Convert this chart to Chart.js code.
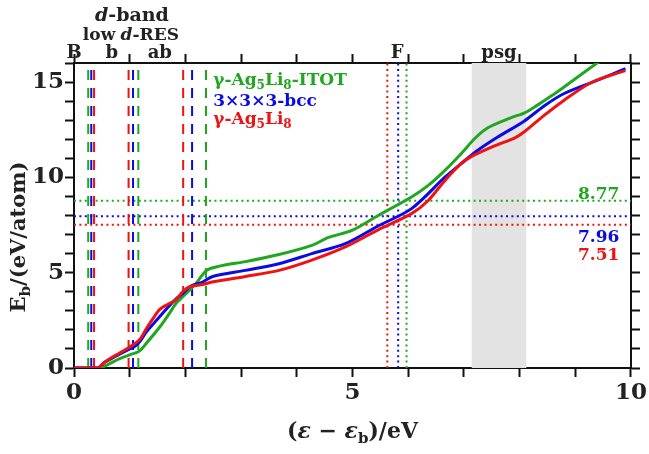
<!DOCTYPE html>
<html>
<head>
<meta charset="utf-8">
<script src="https://cdn.jsdelivr.net/npm/chart.js@4.4.1/dist/chart.umd.min.js"></script>
<style>
  html, body { margin: 0; padding: 0; background: #fff; }
  #wrap { width: 649px; height: 454px; position: relative; }
</style>
</head>
<body>
<div id="wrap"><canvas id="myChart"></canvas></div>
<script>
// curves: [energy (eV), Eb (eV/atom)]
const greenCurve = [[0,0],[0.45,0],[0.58,0.14],[0.82,0.49],[1.06,0.75],[1.18,0.9],[1.3,1.3],[1.54,2.15],[1.71,2.85],[1.83,3.38],[2.01,3.9],[2.19,4.43],[2.37,5.1],[2.55,5.3],[2.73,5.42],[3.08,5.58],[3.68,5.95],[4.27,6.43],[4.57,6.85],[4.99,7.22],[5.46,8.0],[6.06,8.97],[6.36,9.58],[6.66,10.37],[6.95,11.24],[7.2,12.05],[7.43,12.6],[7.84,13.12],[8.1,13.4],[8.3,13.75],[8.56,14.25],[8.92,15.0],[9.39,16.0],[9.5,16.2]];
const blueCurve = [[0,0],[0.42,0],[0.55,0.3],[0.75,0.62],[1.0,1.0],[1.1,1.15],[1.2,1.45],[1.3,1.9],[1.48,2.5],[1.66,3.1],[1.83,3.62],[1.95,3.9],[2.1,4.3],[2.31,4.51],[2.49,4.8],[3.08,5.12],[3.68,5.47],[4.27,6.0],[4.87,6.52],[5.46,7.45],[6.06,8.36],[6.66,10.01],[6.95,10.72],[7.25,11.42],[7.6,12.1],[8.08,12.95],[8.44,13.75],[8.8,14.4],[9.39,15.09],[9.9,15.7]];
const redCurve = [[0,0],[0.43,0],[0.55,0.3],[0.65,0.5],[0.8,0.75],[1.0,1.1],[1.18,1.5],[1.3,2.07],[1.42,2.6],[1.54,3.08],[1.71,3.38],[1.83,3.58],[1.95,4.0],[2.07,4.25],[2.31,4.38],[2.5,4.52],[3.08,4.8],[3.68,5.12],[4.27,5.66],[4.87,6.35],[5.46,7.25],[6.06,8.1],[6.36,8.79],[6.66,9.84],[6.95,10.72],[7.14,11.1],[7.55,11.65],[7.9,12.05],[8.08,12.38],[8.44,13.25],[8.8,14.05],[9.27,14.95],[9.63,15.35],[9.9,15.6]];

// marker lines
const dashRed = [0.36, 0.98, 1.96];
const dashBlue = [0.31, 1.06, 2.12];
const dashGreen = [0.255, 1.155, 2.37];
const fermiRed = 5.625, fermiBlue = 5.82, fermiGreen = 5.97;
const levelRed = 7.51, levelBlue = 7.96, levelGreen = 8.77;
const psgBand = [7.14, 8.12];

// top axis labels
const topLabels = [['B', 0.0], ['b', 0.68], ['ab', 1.54], ['F', 5.8], ['psg', 7.63]];
const seriesNames = ['γ-Ag_5Li_8-ITOT', '3×3×3-bcc', 'γ-Ag_5Li_8'];

const GREEN = '#1fa81f', BLUE = '#0a0ae6', RED = '#f01212';
const FAMILY = '"DejaVu Serif", serif';

const toXY = arr => arr.map(p => ({x: p[0], y: p[1]}));

function vLine(x, color, dash, order) {
    return {data: [{x: x, y: 0}, {x: x, y: 16}], borderColor: color, borderWidth: 2,
            borderDash: dash, pointRadius: 0, order: order, tension: 0};
}
function hLine(y, color) {
    return {data: [{x: 0, y: y}, {x: 10, y: y}], borderColor: color, borderWidth: 2,
            borderDash: [2, 3.4], pointRadius: 0, order: 10, tension: 0};
}
function curve(arr, color, order) {
    return {data: toXY(arr), borderColor: color, borderWidth: 3, pointRadius: 0,
            tension: 0.3, order: order};
}

// parse "γ-Ag_5Li_8" into parts, "_" = next char is subscript, "*" = next char italic
function parseRich(s) {
    const parts = [];
    for (let i = 0; i < s.length; i++) {
        if (s[i] === '_') { parts.push([s[++i], 's']); }
        else if (s[i] === '*') { parts.push([s[++i], 'i']); }
        else { parts.push([s[i], '']); }
    }
    return parts;
}
function partFont(size, flag) {
    const sz = flag === 's' ? Math.round(size * 0.7) : size;
    return (flag === 'i' ? 'italic ' : '') + 'bold ' + sz + 'px ' + FAMILY;
}
function drawRich(ctx, s, x, y, size, color, align) {
    const parts = parseRich(s);
    let w = 0;
    parts.forEach(p => { ctx.font = partFont(size, p[1]); w += ctx.measureText(p[0]).width; });
    let cx = align === 'center' ? x - w / 2 : (align === 'right' ? x - w : x);
    ctx.fillStyle = color;
    ctx.textAlign = 'left';
    ctx.textBaseline = 'alphabetic';
    parts.forEach(p => {
        ctx.font = partFont(size, p[1]);
        ctx.fillText(p[0], cx, p[1] === 's' ? y + size * 0.22 : y);
        cx += ctx.measureText(p[0]).width;
    });
}

const bandPlugin = {
    id: 'band',
    beforeDatasetsDraw(chart) {
        const {ctx, chartArea, scales} = chart;
        const x0 = scales.x.getPixelForValue(psgBand[0]);
        const x1 = scales.x.getPixelForValue(psgBand[1]);
        ctx.save();
        ctx.fillStyle = '#e3e3e3';
        ctx.fillRect(x0, chartArea.top, x1 - x0, chartArea.bottom - chartArea.top);
        ctx.restore();
    }
};

const textPlugin = {
    id: 'texts',
    afterDraw(chart) {
        const {ctx, chartArea, scales} = chart;
        const sx = v => scales.x.getPixelForValue(v);
        const sy = v => scales.y.getPixelForValue(v);
        ctx.save();
        const dark = '#222';
        topLabels.forEach(l => drawRich(ctx, l[0], sx(l[1]), chartArea.top - 5, 18, dark, 'center'));
        drawRich(ctx, 'low', sx(0.45), chartArea.top - 23, 17, dark, 'center');
        drawRich(ctx, '*d-RES', sx(1.36), chartArea.top - 23, 17, dark, 'center');
        drawRich(ctx, '*d-band', sx(1.04), chartArea.top - 42, 19, dark, 'center');

        drawRich(ctx, seriesNames[0], sx(2.5), sy(14.82), 17, GREEN, 'left');
        drawRich(ctx, seriesNames[1], sx(2.5), sy(13.77), 17, BLUE, 'left');
        drawRich(ctx, seriesNames[2], sx(2.5), sy(12.78), 17, RED, 'left');

        drawRich(ctx, levelGreen.toFixed(2), sx(9.79), sy(8.88), 17, GREEN, 'right');
        drawRich(ctx, levelBlue.toFixed(2), sx(9.79), sy(6.61), 17, BLUE, 'right');
        drawRich(ctx, levelRed.toFixed(2), sx(9.79), sy(5.65), 17, RED, 'right');

        // axis titles
        drawRich(ctx, '(*ε − *ε_b)/eV', (chartArea.left + chartArea.right) / 2, 438, 22, dark, 'center');
        ctx.translate(25, 237);
        ctx.rotate(-Math.PI / 2);
        drawRich(ctx, 'E_b/(eV/atom)', 0, 0, 21, dark, 'center');
        ctx.restore();
    }
};

const axisGrid = {drawOnChartArea: false, tickLength: 9, tickWidth: 2, tickColor: '#111'};
const axisBorder = {color: '#111', width: 2};
const tickFont = {family: FAMILY, size: 23, weight: 'bold'};
const every5 = v => (v % 5 === 0 ? v : '');

document.addEventListener('DOMContentLoaded', () => {
    const ctx = document.getElementById('myChart').getContext('2d');
    const datasets = [
        curve(redCurve, RED, 1), curve(blueCurve, BLUE, 2), curve(greenCurve, GREEN, 3),
        hLine(levelGreen, GREEN), hLine(levelBlue, BLUE), hLine(levelRed, RED),
        vLine(fermiRed, RED, [2, 3.4], 10), vLine(fermiBlue, BLUE, [2, 3.4], 10), vLine(fermiGreen, GREEN, [2, 3.4], 10)
    ];
    dashGreen.forEach(v => datasets.push(vLine(v, GREEN, [10, 8], 5)));
    dashBlue.forEach(v => datasets.push(vLine(v, BLUE, [10, 8], 5)));
    dashRed.forEach(v => datasets.push(vLine(v, RED, [10, 8], 5)));

    new Chart(ctx, {
        type: 'line',
        data: {datasets: datasets},
        options: {
            responsive: true,
            maintainAspectRatio: false,
            animation: false,
            layout: {padding: 0},
            plugins: {legend: {display: false}, tooltip: {enabled: false}},
            scales: {
                x: {
                    type: 'linear', position: 'bottom', min: 0, max: 10,
                    grid: axisGrid, border: axisBorder,
                    ticks: {stepSize: 1, autoSkip: false, maxRotation: 0, maxTicksLimit: 20, padding: 2,
                            color: '#222', font: tickFont, callback: every5},
                    afterFit: s => { s.height = 86; }
                },
                x2: {
                    type: 'linear', position: 'top', min: 0, max: 10,
                    grid: axisGrid, border: axisBorder,
                    ticks: {stepSize: 1, autoSkip: false, maxTicksLimit: 20, callback: () => ''},
                    afterFit: s => { s.height = 63; }
                },
                y: {
                    type: 'linear', position: 'left', min: 0, max: 16,
                    grid: axisGrid, border: axisBorder,
                    ticks: {stepSize: 1, autoSkip: false, maxTicksLimit: 20, padding: 1,
                            color: '#222', font: tickFont, callback: every5},
                    afterFit: s => { s.width = 74; }
                },
                y2: {
                    type: 'linear', position: 'right', min: 0, max: 16,
                    grid: axisGrid, border: axisBorder,
                    ticks: {stepSize: 1, autoSkip: false, maxTicksLimit: 20, callback: () => ''},
                    afterFit: s => { s.width = 15; }
                }
            }
        },
        plugins: [bandPlugin, textPlugin]
    });
});
</script>
</body>
</html>
